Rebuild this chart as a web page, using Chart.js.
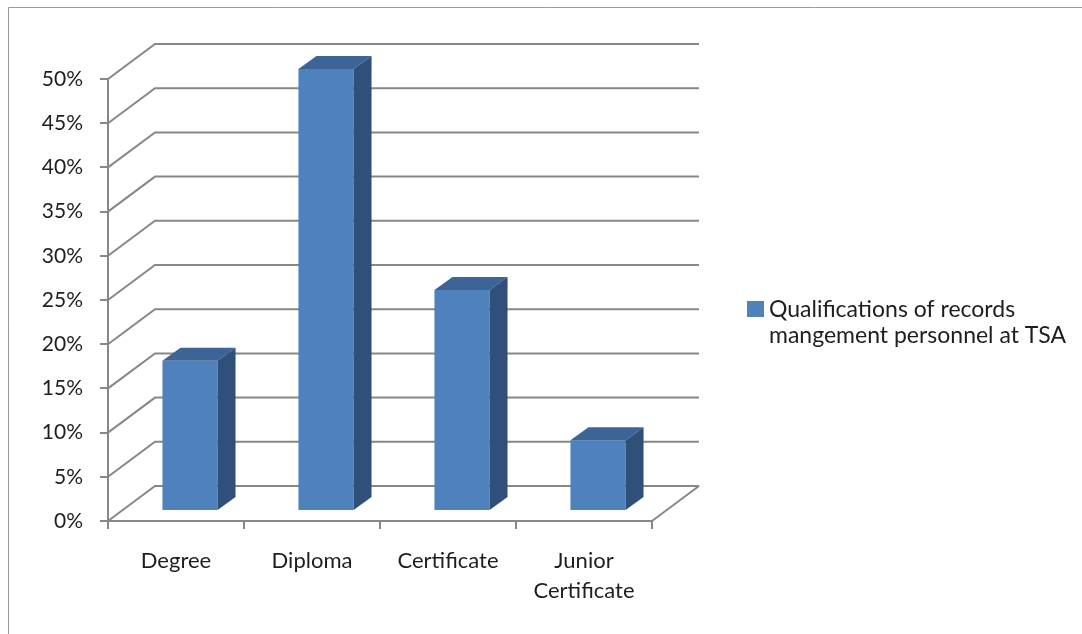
<!DOCTYPE html>
<html>
<head>
<meta charset="utf-8">
<script src="https://cdn.jsdelivr.net/npm/chart.js@4.4.1/dist/chart.umd.min.js"></script>
<style>
  html, body { margin: 0; padding: 0; background: #ffffff; overflow: hidden; }
  #wrap { position: relative; width: 1082px; height: 634px; }
</style>
</head>
<body>
<div id="wrap"><canvas id="c" width="1082" height="634"></canvas></div>
<script>
// Qualification categories and share of personnel (%)
const categories = ['Degree', 'Diploma', 'Certificate', ['Junior', 'Certificate']];
const shares = [17, 50, 25, 8];
const seriesLines = ['Qualifications of records', 'mangement personnel at TSA'];
const yMax = 50;
const yStep = 5;

// 3D look: depth of the back wall, position of the bar plane and bar depth
const WALL = { dx: 47, dy: -35 };
const BAR_PLANE = { dx: 14, dy: -10 };
const BAR_DEPTH = { dx: 18, dy: -13 };

const FONT = 'Lato, "Open Sans", sans-serif';
const TEXT = '#1e1e1e';
const GRID = '#878787';
const FRONT = '#4f81bd';
const TOP = '#3c6496';
const SIDE = '#30507a';

const frame = {
  id: 'frame',
  beforeDraw(chart) {
    const ctx = chart.ctx;
    ctx.save();
    ctx.strokeStyle = '#9a9a9a';
    ctx.lineWidth = 1;
    ctx.beginPath();
    ctx.moveTo(8.5, chart.height + 5);
    ctx.lineTo(8.5, 7.5);
    ctx.lineTo(chart.width + 5, 7.5);
    ctx.stroke();
    ctx.restore();
  }
};

const walls = {
  id: 'walls',
  beforeDatasetsDraw(chart) {
    const { ctx, chartArea: a, scales } = chart;
    const y = scales.y;
    ctx.save();
    ctx.strokeStyle = GRID;
    ctx.lineWidth = 2;
    ctx.lineCap = 'butt';
    y.ticks.forEach(t => {
      const py = y.getPixelForValue(t.value);
      ctx.beginPath();
      ctx.moveTo(a.left, py);
      ctx.lineTo(a.left + WALL.dx, py + WALL.dy);
      ctx.lineTo(a.right + WALL.dx, py + WALL.dy);
      ctx.stroke();
    });
    // right edge of the floor
    ctx.beginPath();
    ctx.moveTo(a.right, a.bottom);
    ctx.lineTo(a.right + WALL.dx, a.bottom + WALL.dy);
    ctx.stroke();
    ctx.restore();
    // bars sit inside the box, behind the front plane
    ctx.save();
    ctx.translate(BAR_PLANE.dx, BAR_PLANE.dy);
  },
  afterDatasetsDraw(chart) {
    const ctx = chart.ctx;
    chart.getDatasetMeta(0).data.forEach(el => {
      const { x, y, base, width } = el.getProps(['x', 'y', 'base', 'width'], true);
      const x0 = x - width / 2, x1 = x + width / 2;
      // top face
      ctx.fillStyle = TOP;
      ctx.beginPath();
      ctx.moveTo(x0, y);
      ctx.lineTo(x1, y);
      ctx.lineTo(x1 + BAR_DEPTH.dx, y + BAR_DEPTH.dy);
      ctx.lineTo(x0 + BAR_DEPTH.dx, y + BAR_DEPTH.dy);
      ctx.closePath();
      ctx.fill();
      // side face
      ctx.fillStyle = SIDE;
      ctx.beginPath();
      ctx.moveTo(x1, y);
      ctx.lineTo(x1 + BAR_DEPTH.dx, y + BAR_DEPTH.dy);
      ctx.lineTo(x1 + BAR_DEPTH.dx, base + BAR_DEPTH.dy);
      ctx.lineTo(x1, base);
      ctx.closePath();
      ctx.fill();
    });
    ctx.restore();
  }
};

const sideLegend = {
  id: 'sideLegend',
  afterDraw(chart) {
    const ctx = chart.ctx;
    ctx.save();
    ctx.fillStyle = FRONT;
    ctx.fillRect(747, 301, 17, 16);
    ctx.fillStyle = TEXT;
    ctx.font = '23px ' + FONT;
    ctx.textAlign = 'left';
    ctx.textBaseline = 'alphabetic';
    seriesLines.forEach((line, i) => ctx.fillText(line, 769, 317 + i * 26));
    ctx.restore();
  }
};

new Chart(document.getElementById('c'), {
  type: 'bar',
  data: {
    labels: categories,
    datasets: [{
      label: seriesLines.join(' '),
      data: shares,
      backgroundColor: FRONT,
      borderWidth: 0,
      barPercentage: 0.405,
      categoryPercentage: 1,
      clip: false
    }]
  },
  options: {
    responsive: false,
    animation: false,
    events: [],
    layout: { padding: { left: 0, top: 79, right: 430, bottom: 0 } },
    plugins: { legend: { display: false }, tooltip: { enabled: false } },
    scales: {
      x: {
        afterFit(s) { s.height = 113; },
        grid: { drawOnChartArea: false, drawTicks: true, tickLength: 8, color: GRID, lineWidth: 2, offset: true },
        border: { display: true, color: GRID, width: 2 },
        ticks: { color: TEXT, font: { family: FONT, size: 22, lineHeight: 1.36 }, padding: 17, maxRotation: 0, autoSkip: false }
      },
      y: {
        min: 0,
        max: yMax,
        afterFit(s) { s.width = 108; },
        grid: { drawOnChartArea: false, drawTicks: true, tickLength: 8, color: GRID, lineWidth: 2 },
        border: { display: true, color: GRID, width: 2 },
        ticks: { stepSize: yStep, color: TEXT, font: { family: FONT, size: 21 }, padding: 17, callback: v => v + '%' }
      }
    }
  },
  plugins: [frame, walls, sideLegend]
});
</script>
</body>
</html>
